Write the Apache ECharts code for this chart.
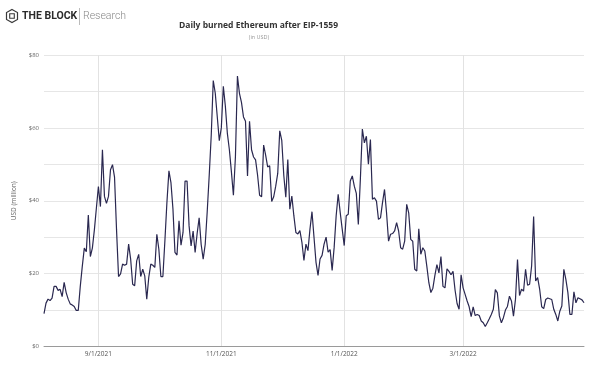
<!DOCTYPE html>
<html>
<head>
<meta charset="utf-8">
<script src="https://cdn.jsdelivr.net/npm/echarts@6/dist/echarts.min.js"></script>
<style>
html,body{margin:0;padding:0;background:#fff;}
#chart{width:610px;height:368px;}
</style>
</head>
<body>
<div id="chart"></div>
<script>
// Daily burned ETH (USD million), from Aug 5 2021 to Apr 30 2022
const startDate = '2021-08-05';
const aug2021 = [9.0,11.9,13.0,12.6,13.3,16.5,16.5,15.4,15.7,13.7,17.6,14.8,13.0,11.7,11.4,11.0,9.9,9.9,16.5,22.0,27.0,26.0,36.1,24.7,27.0,32.0,38.0];
const sep2021 = [43.9,38.4,54.0,41.2,39.3,41.2,48.5,49.9,46.5,32.0,19.2,19.9,22.6,22.3,22.6,28.1,24.0,17.1,16.7,23.5,25.3,19.2,21.2,19.4,13.0,19.0,22.6,22.3,21.7,30.8];
const oct2021 = [26.7,19.2,19.2,29.0,39.5,48.2,45.0,37.7,25.8,25.1,34.5,27.8,31.3,45.4,45.4,33.1,27.6,31.7,25.8,31.0,35.3,28.0,24.0,28.0,37.0,47.0,58.0,73.0,69.5,63.0,56.5];
const nov2021 = [60.0,71.4,66.0,58.5,54.0,48.0,41.5,52.0,74.2,69.5,67.0,63.0,61.8,46.8,61.8,54.0,52.0,51.2,47.0,41.5,41.1,55.3,52.5,49.3,49.6,39.8,41.1,44.0,47.5,59.2];
const dec2021 = [56.6,47.0,41.0,51.3,37.7,41.3,35.9,31.3,30.9,31.8,28.6,23.6,28.1,26.3,32.2,37.0,30.0,23.1,19.5,24.0,25.0,28.1,30.0,25.9,26.6,20.9,27.2,35.9,41.8,36.8,32.2];
const jan2022 = [27.7,35.9,36.3,45.4,46.8,44.0,42.0,33.5,45.8,59.7,55.9,57.7,50.0,56.8,40.4,40.8,39.9,34.9,35.3,39.5,43.1,36.7,28.9,30.8,31.0,31.7,34.0,31.7,27.1,26.7,28.9];
const feb2022 = [39.0,36.7,29.4,28.9,21.2,20.7,32.3,25.3,27.1,26.2,22.0,17.5,14.8,16.0,19.5,22.5,20.2,24.7,16.5,16.1,21.3,20.6,19.7,20.6,15.5,11.8,10.2,19.7];
const mar2022 = [16.1,14.3,12.5,10.9,8.2,10.9,8.5,8.8,8.5,7.0,6.5,5.5,6.5,7.6,8.8,10.2,15.6,14.7,8.4,6.5,7.9,10.0,11.0,13.8,12.5,8.3,13.0,23.9,14.0,15.7,15.2];
const apr2022 = [21.2,16.8,17.1,22.1,35.7,18.0,18.9,15.7,10.9,10.4,12.9,13.3,13.1,12.9,10.2,8.8,7.0,9.7,11.1,21.2,18.4,14.8,8.8,8.8,15.0,12.0,13.4,13.1,12.8,12.0];
const tickLabels = ['9/1/2021','11/1/2021','1/1/2022','3/1/2022'];
const yTicks = [0,20,40,60,80];

const values = [].concat(aug2021,sep2021,oct2021,nov2021,dec2021,jan2022,feb2022,mar2022,apr2022);
const categories = [];
(function(){
  const d0 = new Date(startDate + 'T00:00:00Z');
  for (let i = 0; i < values.length; i++) {
    const d = new Date(d0.getTime() + i*86400000);
    categories.push((d.getUTCMonth()+1) + '/' + d.getUTCDate() + '/' + d.getUTCFullYear());
  }
})();
const isTick = (i, v) => tickLabels.indexOf(v) >= 0;

const chart = echarts.init(document.getElementById('chart'), null, {renderer:'canvas'});
const ff = '"Open Sans", "Liberation Sans", sans-serif';
chart.setOption({
  animation: false,
  backgroundColor: '#fff',
  grid: {left: 44, right: 26, top: 55, bottom: 21.5, containLabel: false},
  xAxis: {
    type: 'category',
    data: categories,
    boundaryGap: false,
    axisLine: {lineStyle: {color: '#9a9a9a', width: 1}},
    axisTick: {show: false},
    axisLabel: {interval: isTick, color: '#555', fontSize: 6.5, fontFamily: ff, margin: 4},
    splitLine: {show: true, interval: isTick, lineStyle: {color: '#e2e2e2', width: 1}}
  },
  yAxis: {
    type: 'value',
    min: 0, max: 80, interval: 10,
    name: 'USD (million)',
    nameLocation: 'middle',
    nameGap: 21,
    nameTextStyle: {color: '#666', fontSize: 6.5, fontFamily: ff},
    axisLine: {show: false},
    axisTick: {show: false},
    axisLabel: {color: '#666', fontSize: 6, fontFamily: ff, margin: 5,
      formatter: v => yTicks.indexOf(v) >= 0 ? '$' + v : ''},
    splitLine: {lineStyle: {color: '#e6e6e6', width: 1}}
  },
  series: [{
    type: 'line',
    data: values,
    showSymbol: false,
    symbol: 'none',
    lineStyle: {color: '#2a2850', width: 1.2},
    itemStyle: {color: '#2a2850'}
  }],
  graphic: [
    {type: 'polygon', shape: {points: [[12,9.5],[17.5,12.5],[17.5,19.5],[12,22.5],[6.5,19.5],[6.5,12.5]]},
     style: {fill: 'none', stroke: '#3a3a3a', lineWidth: 1.2}},
    {type: 'rect', shape: {x: 9.7, y: 13.7, width: 4.6, height: 4.6},
     style: {fill: 'none', stroke: '#3a3a3a', lineWidth: 1.1}},
    {type: 'text', x: 22, y: 16.5, style: {text: 'THE BLOCK', font: 'bold 10.5px Roboto, sans-serif', fill: '#2b2b2b', textVerticalAlign: 'middle'}},
    {type: 'line', shape: {x1: 79.5, y1: 8, x2: 79.5, y2: 25}, style: {stroke: '#bbb', lineWidth: 1}},
    {type: 'text', x: 83, y: 16.5, style: {text: 'Research', font: '300 10.5px Roboto, sans-serif', fill: '#888', textVerticalAlign: 'middle'}},
    {type: 'text', x: 258.5, y: 26, style: {text: 'Daily burned Ethereum after EIP-1559', font: 'bold 8.5px "Open Sans", sans-serif', fill: '#333', textAlign: 'center', textVerticalAlign: 'middle'}},
    {type: 'text', x: 259, y: 37, style: {text: '(in USD)', font: '5.5px "Open Sans", sans-serif', fill: '#999', textAlign: 'center', textVerticalAlign: 'middle'}}
  ]
});
</script>
</body>
</html>
